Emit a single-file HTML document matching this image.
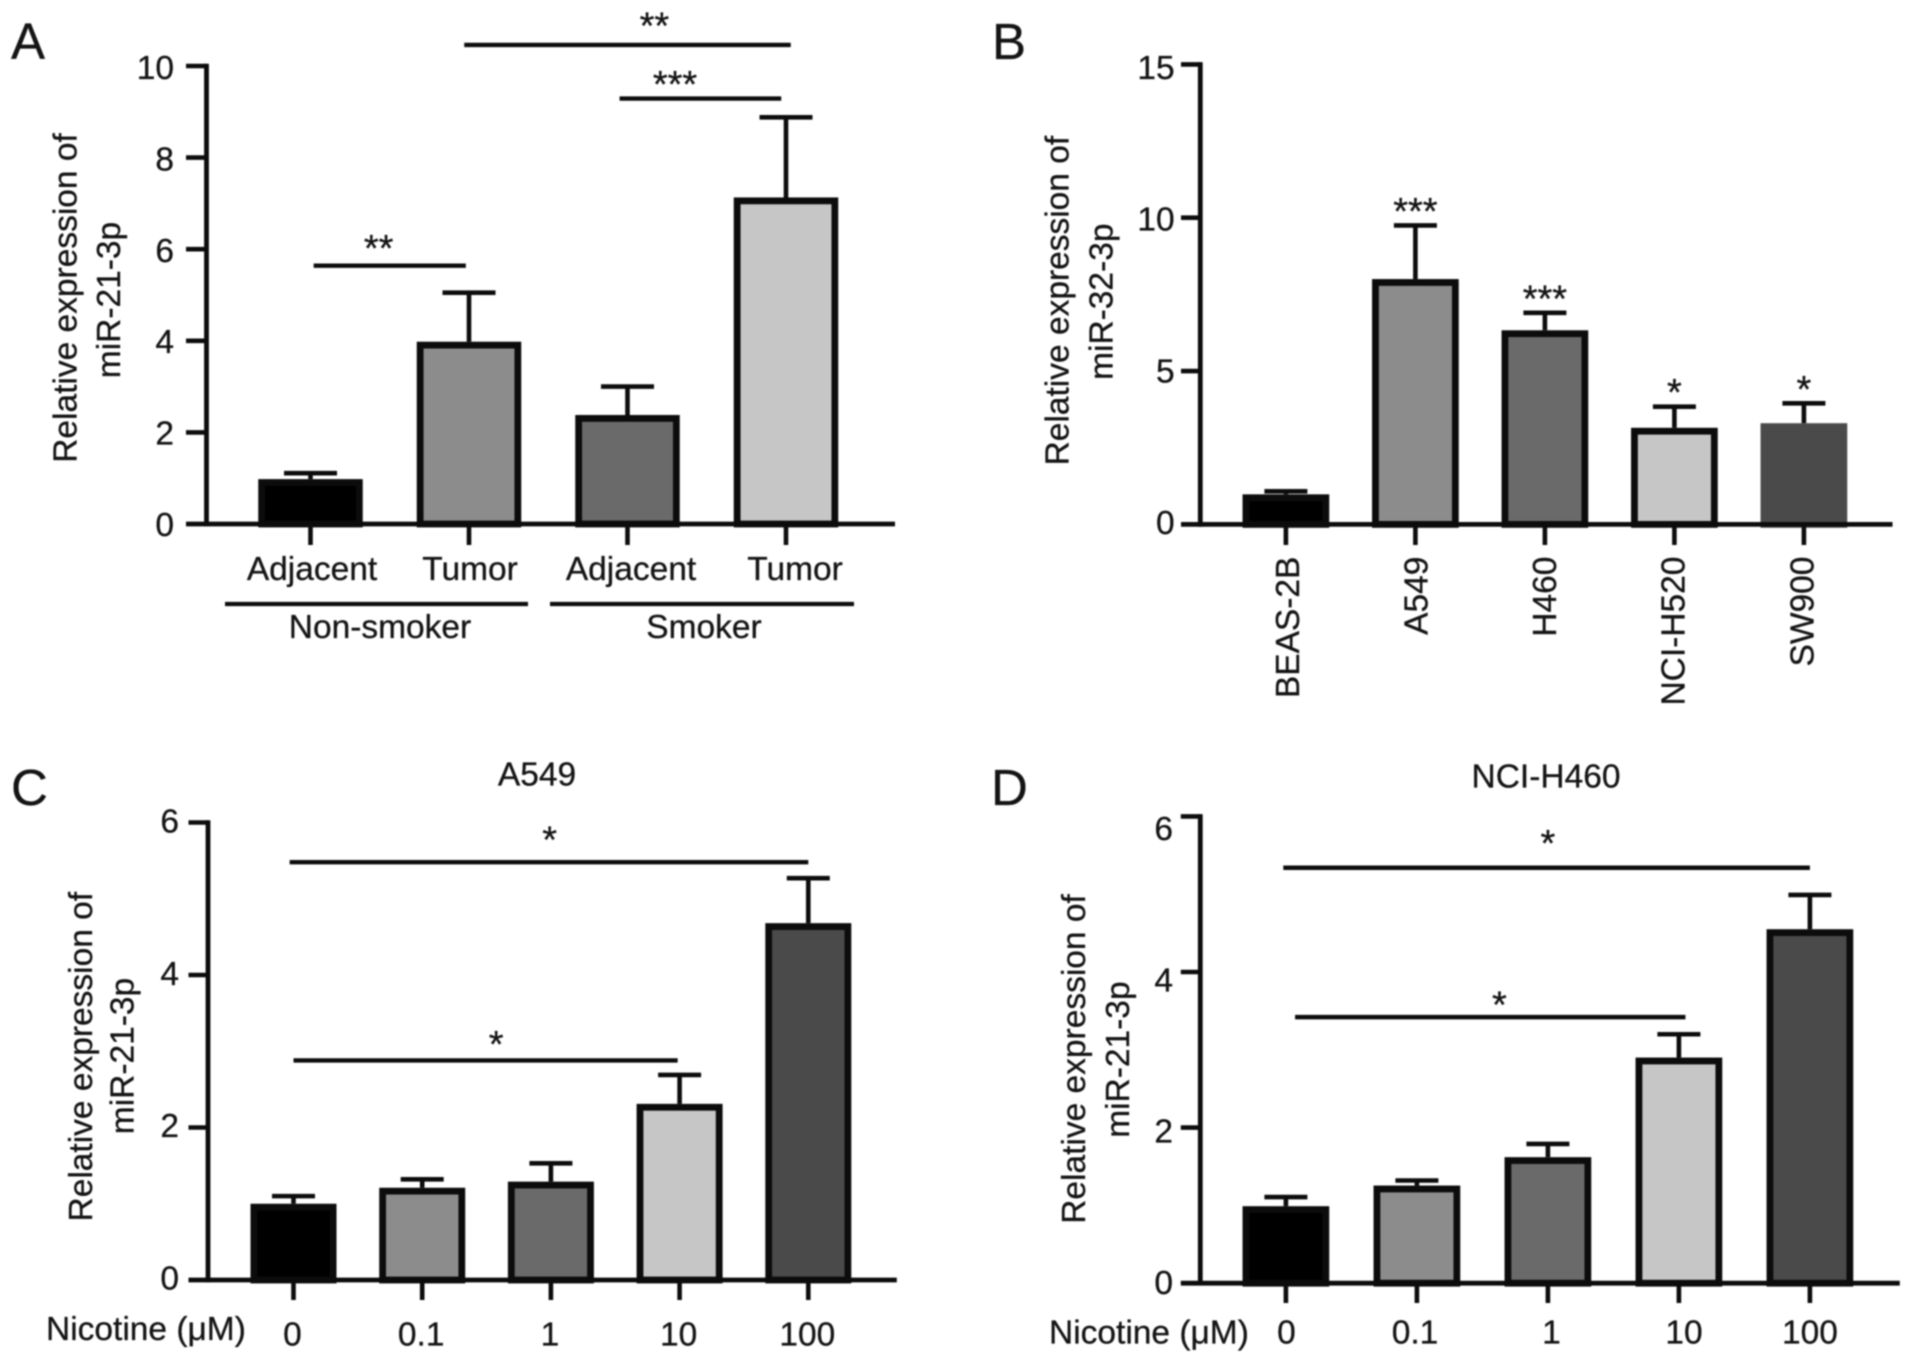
<!DOCTYPE html>
<html lang="en">
<head>
<meta charset="utf-8">
<title>Relative expression of miR-21-3p and miR-32-3p</title>
<style>
  html, body { margin: 0; padding: 0; background: #fff; }
  body { width: 1913px; height: 1362px; overflow: hidden; }
  svg { display: block; filter: blur(0.9px); }
  text { font-family: "Liberation Sans", Arial, sans-serif; fill: #141414; stroke: #141414; stroke-width: 0.3px; }
</style>
</head>
<body>
<svg id="figure" xmlns="http://www.w3.org/2000/svg" width="1913" height="1362" viewBox="0 0 1913 1362">
  <rect width="1913" height="1362" fill="#ffffff"/>
  <g id="panel-a"></g>
  <g id="panel-b"></g>
  <g id="panel-c"></g>
  <g id="panel-d"></g>
</svg>
<script>
// ---- Panel A data ----
const panelACategories = ['Adjacent', 'Tumor', 'Adjacent', 'Tumor'];
const panelAValues = [0.98, 3.98, 2.38, 7.13];
const panelAErrors = [0.13, 1.07, 0.62, 1.75];
const panelATicks = [0, 2, 4, 6, 8, 10];

// ---- Panel B data ----
const panelBCategories = ['BEAS-2B', 'A549', 'H460', 'NCI-H520', 'SW900'];
const panelBValues = [0.98, 8.0, 6.33, 3.15, 3.3];
const panelBErrors = [0.1, 1.75, 0.57, 0.69, 0.65];
const panelBTicks = [0, 5, 10, 15];
const panelBStars = ['', '***', '***', '*', '*'];

// ---- Panel C data ----
const panelCCategories = ['0', '0.1', '1', '10', '100'];
const panelCValues = [1.0, 1.21, 1.29, 2.31, 4.68];
const panelCErrors = [0.1, 0.11, 0.24, 0.38, 0.59];
const panelCTicks = [0, 2, 4, 6];

// ---- Panel D data ----
const panelDCategories = ['0', '0.1', '1', '10', '100'];
const panelDValues = [0.99, 1.255, 1.62, 2.9, 4.55];
const panelDErrors = [0.117, 0.065, 0.17, 0.3, 0.44];
const panelDTicks = [0, 2, 4, 6];

// ---- Bar styles ----
const fourBarFills = ['#000000', '#8c8c8c', '#6a6a6a', '#c6c6c6'];
const fiveBarFills = ['#000000', '#8c8c8c', '#6a6a6a', '#c6c6c6', '#4a4a4a'];

const SVG_NS = 'http://www.w3.org/2000/svg';
const INK = '#0c0c0c';
const FONT = 33.5;

function make(parent, tag, name, attrs) {
  const el = document.createElementNS(SVG_NS, tag);
  
  
  for (const key in attrs) {
    el.setAttribute(key, attrs[key]);
  }
  parent.appendChild(el);
  return el;
}

function line(parent, name, x1, y1, x2, y2, width) {
  return make(parent, 'line', name, {
    x1: x1, y1: y1, x2: x2, y2: y2,
    stroke: INK, 'stroke-width': width
  });
}

function label(parent, name, str, x, y, anchor, rotated, size) {
  const attrs = {
    x: x, y: y,
    'text-anchor': anchor || 'middle',
    'font-size': size || FONT
  };
  if (rotated) {
    attrs.transform = 'rotate(-90 ' + x + ' ' + y + ')';
  }
  const el = make(parent, 'text', name, attrs);
  el.textContent = str;
  return el;
}

function drawBarPanel(cfg) {
  const g = document.getElementById(cfg.id);
  const yScale = v => cfg.y0 - (v / cfg.yMax) * (cfg.y0 - cfg.yTop);
  const xScale = i => cfg.firstX + i * cfg.stepX;
  const labelCenter = v => cfg.labelBottom - (v / cfg.yMax) * (cfg.labelBottom - cfg.labelTop);
  const borderW = 6.8;

  // error bars
  cfg.values.forEach((v, i) => {
    const top = yScale(v + cfg.errors[i]);
    line(g, 'error-bar-' + i, xScale(i), yScale(v), xScale(i), top, 4.6);
    line(g, 'error-cap-' + i, xScale(i) - cfg.capHalf, top, xScale(i) + cfg.capHalf, top, 4.6);
  });

  // bars
  cfg.values.forEach((v, i) => {
    const topY = yScale(v);
    const noBorder = cfg.borderlessLast && i === cfg.values.length - 1;
    make(g, 'rect', 'bar-' + i, {
      x: xScale(i) - cfg.barW / 2 + borderW / 2,
      y: topY + borderW / 2,
      width: cfg.barW - borderW,
      height: Math.max(0, cfg.y0 - topY - borderW / 2),
      fill: cfg.fills[i],
      stroke: noBorder ? cfg.fills[i] : INK,
      'stroke-width': borderW
    });
  });

  // axes
  line(g, 'y-axis', cfg.axisX, cfg.yTop - 2.3, cfg.axisX, cfg.y0 + 2.3, 4.8);
  line(g, 'x-axis', cfg.axisLeft, cfg.y0, cfg.axisRight, cfg.y0, 4.8);

  // y ticks
  cfg.ticks.forEach(t => {
    if (t !== 0) {
      line(g, 'y-tick-' + t, cfg.axisLeft, yScale(t), cfg.axisX, yScale(t), 4.6);
    }
    label(g, 'y-tick-label-' + t, String(t), cfg.yLabelRight, labelCenter(t) + 12, 'end');
  });

  // x ticks
  cfg.values.forEach((v, i) => {
    line(g, 'x-tick-' + i, xScale(i), cfg.y0, xScale(i), cfg.tickBottom, 4.6);
  });

  return { g: g, x: xScale, y: yScale };
}

function significance(panel, name, stars, fromIndex, toIndex, yValue, starIndex, starLift) {
  const y = panel.y(yValue);
  line(panel.g, name + '-line', panel.x(fromIndex), y, panel.x(toIndex), y, 4.4);
  label(panel.g, name + '-stars', stars, panel.x(starIndex), y - starLift + 18.5, 'middle', false, 38);
}

// ---- Panel A ----
const panelA = drawBarPanel({
  id: 'panel-a', values: panelAValues, errors: panelAErrors, ticks: panelATicks,
  fills: fourBarFills, axisX: 206.5, axisLeft: 186, axisRight: 895,
  y0: 524, yTop: 66, yMax: 10, firstX: 310.5, stepX: 158.5,
  barW: 104.5, capHalf: 26.5, tickBottom: 545, yLabelRight: 174,
  labelTop: 67, labelBottom: 524
});
label(panelA.g, 'panel-letter-a', 'A', 11, 59, 'start', false, 51);
label(panelA.g, 'y-axis-title-line-1', 'Relative expression of', 76.5, 298, 'middle', true);
label(panelA.g, 'y-axis-title-line-2', 'miR-21-3p', 120, 300, 'middle', true);
label(panelA.g, 'x-tick-label-0', panelACategories[0], 312, 580);
label(panelA.g, 'x-tick-label-1', panelACategories[1], 470, 580);
label(panelA.g, 'x-tick-label-2', panelACategories[2], 631, 580);
label(panelA.g, 'x-tick-label-3', panelACategories[3], 795, 580);
line(panelA.g, 'group-line-non-smoker', 225, 604, 528, 604, 4.2);
line(panelA.g, 'group-line-smoker', 550, 604, 854, 604, 4.2);
label(panelA.g, 'group-label-non-smoker', 'Non-smoker', 380, 638);
label(panelA.g, 'group-label-smoker', 'Smoker', 704, 638);
significance(panelA, 'sig-tumor-tumor', '**', 0.97, 3.03, 10.46, 2.17, 25);
significance(panelA, 'sig-adjacent-tumor-smoker', '***', 1.95, 2.97, 9.29, 2.3, 20);
significance(panelA, 'sig-adjacent-tumor-non-smoker', '**', 0.02, 0.98, 5.64, 0.43, 23);

// ---- Panel B ----
const panelB = drawBarPanel({
  id: 'panel-b', values: panelBValues, errors: panelBErrors, ticks: panelBTicks,
  fills: fiveBarFills, axisX: 1200.3, axisLeft: 1181, axisRight: 1892.5,
  y0: 524.4, yTop: 64.4, yMax: 15, firstX: 1285.9, stepX: 129.5,
  barW: 86.7, capHalf: 21.5, tickBottom: 545, yLabelRight: 1174.7, borderlessLast: true,
  labelTop: 67, labelBottom: 522
});
label(panelB.g, 'panel-letter-b', 'B', 992, 59, 'start', false, 51);
label(panelB.g, 'y-axis-title-line-1', 'Relative expression of', 1068.5, 300.6, 'middle', true);
label(panelB.g, 'y-axis-title-line-2', 'miR-32-3p', 1112.5, 301.7, 'middle', true);
panelBCategories.forEach((c, i) => {
  label(panelB.g, 'x-tick-label-' + i, c, panelB.x(i) + 13 - i * 0.9, 556.6, 'end', true);
});
panelBStars.forEach((s, i) => {
  if (s) {
    const capY = panelB.y(panelBValues[i] + panelBErrors[i]);
    label(panelB.g, 'sig-stars-' + i, s, panelB.x(i), capY - 20 + 18.5, 'middle', false, 38);
  }
});

// ---- Panel C ----
const panelC = drawBarPanel({
  id: 'panel-c', values: panelCValues, errors: panelCErrors, ticks: panelCTicks,
  fills: fiveBarFills, axisX: 208, axisLeft: 188.5, axisRight: 896.8,
  y0: 1280, yTop: 822.5, yMax: 6, firstX: 293.5, stepX: 128.7,
  barW: 86, capHalf: 21.5, tickBottom: 1300, yLabelRight: 179,
  labelTop: 820.5, labelBottom: 1277.5
});
label(panelC.g, 'panel-letter-c', 'C', 11, 805, 'start', false, 51);
label(panelC.g, 'chart-title', 'A549', 537, 785.6);
label(panelC.g, 'y-axis-title-line-1', 'Relative expression of', 92, 1056.7, 'middle', true);
label(panelC.g, 'y-axis-title-line-2', 'miR-21-3p', 133.4, 1056, 'middle', true);
label(panelC.g, 'x-axis-title', 'Nicotine (\u03BCM)', 46, 1340, 'start');
panelCCategories.forEach((c, i) => {
  label(panelC.g, 'x-tick-label-' + i, c, panelC.x(i) - 1, 1345.5);
});
significance(panelC, 'sig-0-vs-100', '*', -0.03, 4.0, 5.48, 1.99, 28);
significance(panelC, 'sig-0-vs-10', '*', 0, 2.985, 2.88, 1.575, 22);

// ---- Panel D ----
const panelD = drawBarPanel({
  id: 'panel-d', values: panelDValues, errors: panelDErrors, ticks: panelDTicks,
  fills: fiveBarFills, axisX: 1200.3, axisLeft: 1180.8, axisRight: 1899.8,
  y0: 1283.2, yTop: 816.4, yMax: 6, firstX: 1285.9, stepX: 131,
  barW: 86.7, capHalf: 21.5, tickBottom: 1303, yLabelRight: 1173,
  labelTop: 828, labelBottom: 1282
});
label(panelD.g, 'panel-letter-d', 'D', 991, 805, 'start', false, 51);
label(panelD.g, 'chart-title', 'NCI-H460', 1546, 787.7);
label(panelD.g, 'y-axis-title-line-1', 'Relative expression of', 1085, 1059, 'middle', true);
label(panelD.g, 'y-axis-title-line-2', 'miR-21-3p', 1129, 1059.6, 'middle', true);
label(panelD.g, 'x-axis-title', 'Nicotine (\u03BCM)', 1049, 1343.5, 'start');
label(panelD.g, 'x-tick-label-0', panelDCategories[0], 1286.5, 1343.5);
label(panelD.g, 'x-tick-label-1', panelDCategories[1], 1415, 1343.5);
label(panelD.g, 'x-tick-label-2', panelDCategories[2], 1551.5, 1343.5);
label(panelD.g, 'x-tick-label-3', panelDCategories[3], 1684, 1343.5);
label(panelD.g, 'x-tick-label-4', panelDCategories[4], 1810, 1343.5);
significance(panelD, 'sig-0-vs-100', '*', -0.02, 4.0, 5.34, 2.0, 30);
significance(panelD, 'sig-0-vs-10', '*', 0.07, 3.05, 3.42, 1.63, 18);
</script>
</body>
</html>
